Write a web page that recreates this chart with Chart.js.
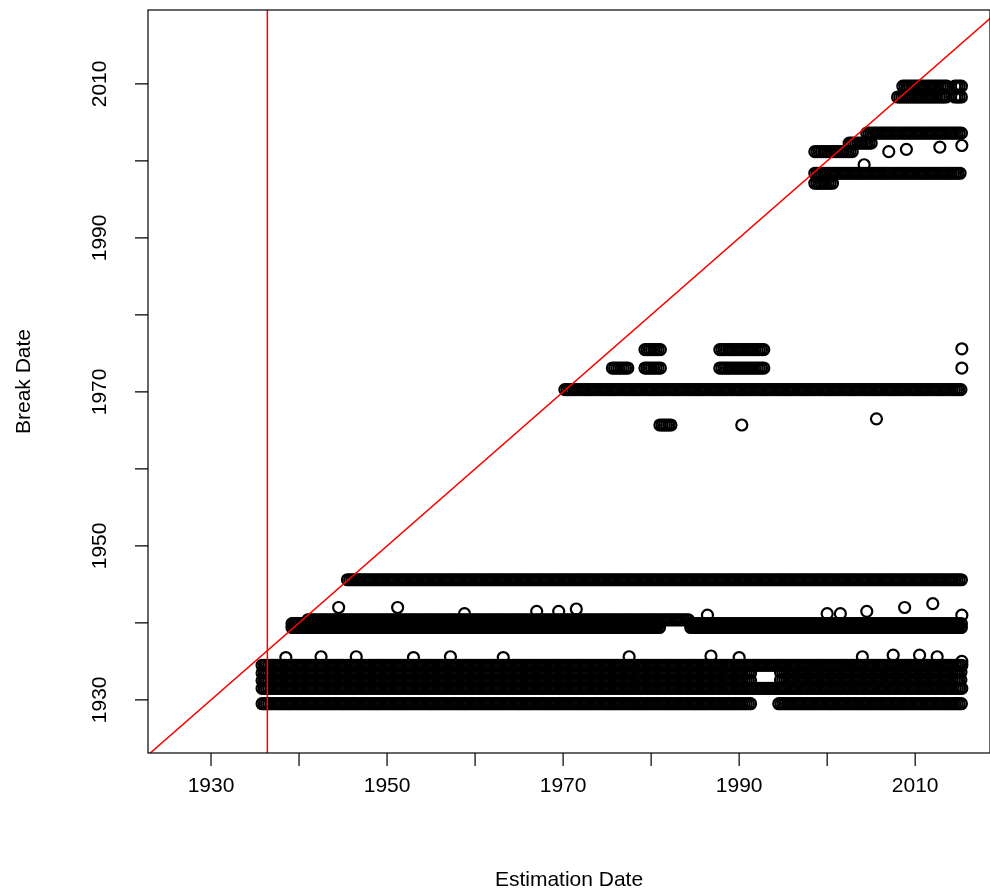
<!DOCTYPE html>
<html>
<head>
<meta charset="utf-8">
<script src="https://cdn.jsdelivr.net/npm/chart.js@4/dist/chart.umd.min.js"></script>
<style>
  body { margin: 0; background: #fff; overflow: hidden; }
</style>
</head>
<body>
<canvas id="plot" width="990" height="896"></canvas>
<script>
// Bands of estimated break dates: estimation dates from segStart to segEnd (quarterly), break at segBreak
var segStart = [1945.5, 1939.2, 1939.2, 1941.0, 1984.5, 1984.5, 1935.8, 1935.8, 1994.7, 1935.8, 1994.7, 1935.8, 1935.8, 1994.5,
                1970.2, 1975.6, 1979.3, 1979.3, 1987.8, 1987.8, 1981.0,
                1998.6, 1998.6, 1998.6, 2002.5, 2004.5, 2008.0, 2008.6, 2014.5, 2014.5];
var segEnd   = [2015.3, 1981.0, 1981.0, 1984.3, 2015.3, 2015.3, 2015.3, 1991.5, 2015.3, 1991.5, 2015.3, 2015.3, 1991.5, 2015.3,
                2015.3, 1977.4, 1981.2, 1981.2, 1993.0, 1993.0, 1982.4,
                2015.3, 2000.6, 2003.0, 2005.0, 2015.3, 2013.6, 2013.6, 2015.3, 2015.3];
var segBreak = [1945.6, 1939.4, 1939.9, 1940.4, 1939.4, 1939.9, 1934.5, 1933.5, 1933.6, 1932.5, 1932.6, 1931.5, 1929.5, 1929.5,
                1970.3, 1973.1, 1973.1, 1975.5, 1973.1, 1975.5, 1965.7,
                1998.4, 1997.1, 2001.2, 2002.3, 2003.6, 2008.3, 2009.7, 2008.3, 2009.7];

// Scattered single estimates
var extraX = [1944.5, 1951.2, 1958.8, 1967.0, 1969.5, 1971.5, 1986.4, 2000.0, 2001.5, 2004.5, 2008.8, 2012.0, 2015.3, 2015.3,
              1938.5, 1942.5, 1946.5, 1953.0, 1957.2, 1963.2, 1977.5, 1986.8, 1990.0, 2004.0, 2007.5, 2010.5, 2012.5,
              1990.3, 2005.6, 2015.3, 2015.3, 2007.0, 2009.0, 2012.8, 2004.2, 2015.3];
var extraY = [1942.0, 1942.0, 1941.2, 1941.5, 1941.5, 1941.8, 1941.0, 1941.2, 1941.2, 1941.5, 1942.0, 1942.5, 1941.0, 1935.0,
              1935.5, 1935.6, 1935.6, 1935.5, 1935.6, 1935.5, 1935.6, 1935.7, 1935.5, 1935.6, 1935.8, 1935.8, 1935.6,
              1965.7, 1966.5, 1973.1, 1975.6, 2001.2, 2001.5, 2001.8, 1999.5, 2002.0];

var xTicks = [1930, 1940, 1950, 1960, 1970, 1980, 1990, 2000, 2010];
var xLabels = [1930, 1950, 1970, 1990, 2010];
var yTicks = [1930, 1940, 1950, 1960, 1970, 1980, 1990, 2000, 2010];
var yLabels = [1930, 1950, 1970, 1990, 2010];
var vLine = 1936.4;

var points = [];
for (var i = 0; i < segStart.length; i++) {
    for (var t = segStart[i]; t <= segEnd[i] + 1e-9; t += 0.25) {
        points.push({ x: t, y: segBreak[i] });
    }
}
for (var j = 0; j < extraX.length; j++) {
    points.push({ x: extraX[j], y: extraY[j] });
}

var FONT = '"Liberation Sans", Arial, sans-serif';

var axesPlugin = {
    id: 'baseAxes',
    afterDraw: function (chart) {
        var ctx = chart.ctx, a = chart.chartArea;
        var xs = chart.scales.x, ys = chart.scales.y;
        ctx.save();
        ctx.strokeStyle = '#000';
        ctx.lineWidth = 1.2;
        ctx.strokeRect(a.left, a.top, a.right - a.left, a.bottom - a.top);
        ctx.fillStyle = '#000';
        ctx.font = '21px ' + FONT;
        ctx.beginPath();
        xTicks.forEach(function (v) {
            var px = xs.getPixelForValue(v);
            ctx.moveTo(px, a.bottom); ctx.lineTo(px, a.bottom + 13);
        });
        yTicks.forEach(function (v) {
            var py = ys.getPixelForValue(v);
            ctx.moveTo(a.left, py); ctx.lineTo(a.left - 13, py);
        });
        ctx.stroke();
        ctx.textAlign = 'center';
        ctx.textBaseline = 'middle';
        xLabels.forEach(function (v) {
            ctx.fillText(String(v), xs.getPixelForValue(v), a.bottom + 33);
        });
        yLabels.forEach(function (v) {
            ctx.save();
            ctx.translate(a.left - 48, ys.getPixelForValue(v));
            ctx.rotate(-Math.PI / 2);
            ctx.fillText(String(v), 0, 0);
            ctx.restore();
        });
        ctx.fillText('Estimation Date', (a.left + a.right) / 2, 880);
        ctx.save();
        ctx.translate(24, (a.top + a.bottom) / 2);
        ctx.rotate(-Math.PI / 2);
        ctx.fillText('Break Date', 0, 0);
        ctx.restore();
        ctx.restore();
    }
};

new Chart(document.getElementById('plot'), {
    type: 'scatter',
    data: {
        datasets: [{
            data: points,
            pointStyle: 'circle',
            pointRadius: 5.5,
            pointBorderWidth: 2.2,
            borderColor: '#000',
            backgroundColor: 'rgba(0,0,0,0)',
            order: 2
        }, {
            type: 'line',
            data: [{ x: 1900, y: 1900 }, { x: 2040, y: 2040 }],
            borderColor: '#ff0000',
            borderWidth: 1.5,
            pointRadius: 0,
            order: 1
        }, {
            type: 'line',
            data: [{ x: vLine, y: 1900 }, { x: vLine, y: 2040 }],
            borderColor: '#ff0000',
            borderWidth: 1.5,
            pointRadius: 0,
            order: 1
        }]
    },
    options: {
        responsive: false,
        animation: false,
        devicePixelRatio: 1,
        layout: { autoPadding: false, padding: { left: 148, top: 10, right: 0, bottom: 143 } },
        plugins: { legend: { display: false }, tooltip: { enabled: false } },
        scales: {
            x: { type: 'linear', min: 1922.84, max: 2018.5, display: false },
            y: { type: 'linear', min: 1923.1, max: 2019.6, display: false }
        }
    },
    plugins: [axesPlugin]
});
</script>
</body>
</html>
